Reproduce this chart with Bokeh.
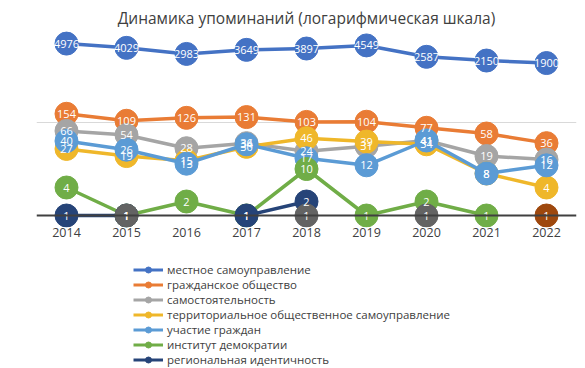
import math
from bokeh.plotting import figure
from bokeh.layouts import column
from bokeh.models import ColumnDataSource, FixedTicker, Span, Legend, LegendItem, Range1d
from bokeh.embed import file_html
from bokeh.resources import INLINE
from bokeh.core.properties import value

years = ["2014", "2015", "2016", "2017", "2018", "2019", "2020", "2021", "2022"]

names = [
    "местное самоуправление",
    "гражданское общество",
    "самостоятельность",
    "территориальное общественное самоуправление",
    "участие граждан",
    "институт демократии",
    "региональная идентичность",
]

local_gov = [4976, 4029, 2983, 3649, 3897, 4549, 2587, 2150, 1900]
civil_society = [154, 109, 126, 131, 103, 104, 77, 58, 36]
independence = [66, 54, 28, 36, 24, 31, 41, 19, 16]
tos = [27, 19, 15, 30, 46, 39, 34, 8, 4]
participation = [40, 26, 13, 34, 17, 12, 41, 8, 12]
democracy = [4, 1, 2, 1, 10, 1, 2, 1, None]
regional_identity = [1, 1, None, 1, 2, None, None, None, None]
series8 = [None, None, None, None, None, None, None, None, 1]
series9 = [None, 1, None, None, 1, None, 1, None, None]

colors = ["#4472C4", "#E97C35", "#A5A5A5", "#EFB72A", "#5B9BD5",
          "#70AD47", "#264478", "#9E480E", "#636363"]
all_series = [local_gov, civil_society, independence, tos, participation,
              democracy, regional_identity, series8, series9]

FONT = "Open Sans"

p = figure(width=585, height=250, x_range=(-0.5, 8.5), y_range=(0.552, 10000),
           y_axis_type="log", output_backend="svg", toolbar_location=None,
           min_border_left=36, min_border_right=9, min_border_top=29,
           min_border_bottom=23)
p.outline_line_color = None
p.background_fill_color = "white"

p.title.text = "Динамика упоминаний (логарифмическая шкала)"
p.title.align = "center"
p.title.text_font = FONT
p.title.text_font_size = "15.5px"
p.title.text_font_style = "normal"
p.title.text_color = "#404040"
p.title.standoff = 2

p.yaxis.visible = False
p.xgrid.visible = False
p.ygrid.ticker = FixedTicker(ticks=[100])
p.ygrid.grid_line_color = "#D9D9D9"
p.ygrid.grid_line_width = 1

xa = p.xaxis[0]
xa.ticker = FixedTicker(ticks=list(range(len(years))))
xa.major_label_overrides = {i: y for i, y in enumerate(years)}
xa.axis_line_color = None
xa.major_tick_line_color = None
xa.major_tick_out = 0
xa.major_tick_in = 0
xa.minor_tick_line_color = None
xa.major_label_text_font = FONT
xa.major_label_text_font_size = "12.5px"
xa.major_label_text_color = "#404040"
xa.major_label_standoff = 0

p.add_layout(Span(location=1, dimension="width", line_color="#404040", line_width=2))

xs = list(range(len(years)))
for vals, c in zip(all_series, colors):
    yv = [float("nan") if v is None else v for v in vals]
    src = ColumnDataSource(dict(x=xs, y=yv))
    p.line("x", "y", source=src, line_color=c, line_width=3.5)
    pts = [(x, v) for x, v in zip(xs, vals) if v is not None]
    psrc = ColumnDataSource(dict(x=[a for a, _ in pts], y=[b for _, b in pts]))
    p.scatter("x", "y", source=psrc, size=23, fill_color=c, line_color=c)

for vals in all_series:
    pts = [(x, v) for x, v in zip(xs, vals) if v is not None]
    lsrc = ColumnDataSource(dict(x=[a for a, _ in pts], y=[b for _, b in pts],
                                 t=[str(b) for _, b in pts]))
    p.text("x", "y", text="t", source=lsrc, text_color="white",
           text_font=value(FONT), text_font_size="11px",
           text_align="center", text_baseline="middle")

# legend figure below the chart
lf = figure(width=585, height=118, x_range=Range1d(0, 1), y_range=Range1d(0, 1),
            output_backend="svg", toolbar_location=None,
            min_border_left=0, min_border_right=0, min_border_top=0,
            min_border_bottom=0)
lf.outline_line_color = None
lf.axis.visible = False
lf.grid.visible = False

items = []
for name, c in zip(names, colors):
    esrc = ColumnDataSource(dict(x=[-5.0], y=[-5.0]))
    r1 = lf.line("x", "y", source=esrc, line_color=c, line_width=3)
    r2 = lf.scatter("x", "y", source=esrc, size=7, fill_color=c, line_color=c)
    items.append(LegendItem(label=name, renderers=[r1, r2]))

legend = Legend(items=items, location=(97, 1), orientation="vertical",
                glyph_width=30, glyph_height=15, label_height=15, spacing=0,
                padding=0, margin=0, label_standoff=4,
                label_text_font=FONT, label_text_font_size="11.5px",
                label_text_color="#404040",
                background_fill_alpha=0, border_line_color=None)
lf.add_layout(legend, "center")

layout = column(p, lf, spacing=0)
open("out.html", "w").write(file_html(layout, INLINE))
